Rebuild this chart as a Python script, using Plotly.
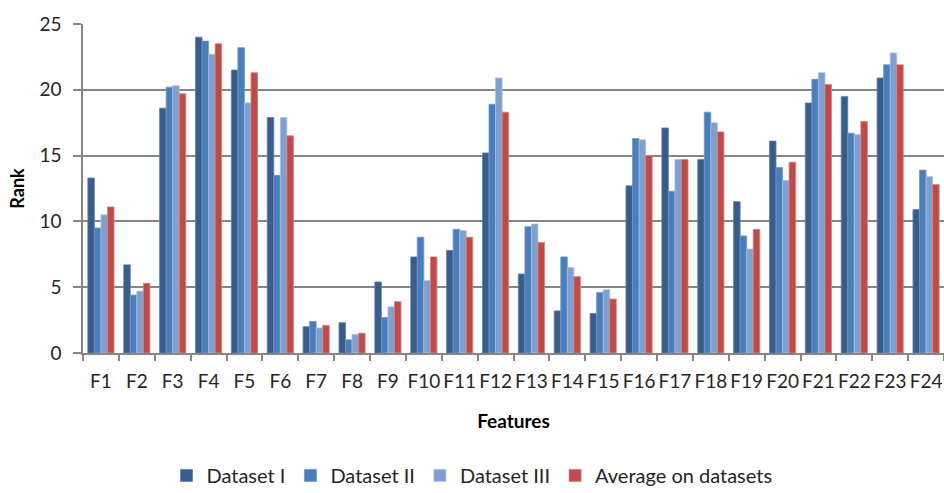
import plotly.graph_objects as go

features = [f"F{i}" for i in range(1, 25)]

dataset_1 = [13.3, 6.7, 18.6, 24.0, 21.5, 17.9, 2.0, 2.3, 5.4, 7.3, 7.8, 15.2,
             6.0, 3.2, 3.0, 12.7, 17.1, 14.7, 11.5, 16.1, 19.0, 19.5, 20.9, 10.9]
dataset_2 = [9.5, 4.4, 20.2, 23.7, 23.2, 13.5, 2.4, 1.0, 2.7, 8.8, 9.4, 18.9,
             9.6, 7.3, 4.6, 16.3, 12.3, 18.3, 8.9, 14.1, 20.8, 16.7, 21.9, 13.9]
dataset_3 = [10.5, 4.7, 20.3, 22.7, 19.0, 17.9, 1.9, 1.4, 3.5, 5.5, 9.3, 20.9,
             9.8, 6.5, 4.8, 16.2, 14.7, 17.5, 7.9, 13.1, 21.3, 16.6, 22.8, 13.4]
average = [11.1, 5.3, 19.7, 23.5, 21.3, 16.5, 2.1, 1.5, 3.9, 7.3, 8.8, 18.3,
           8.4, 5.8, 4.1, 15.0, 14.7, 16.8, 9.4, 14.5, 20.4, 17.6, 21.9, 12.8]

series = [
    ("Dataset I", dataset_1, "#385D8A", "#5E80AD"),
    ("Dataset II", dataset_2, "#4A7EBB", "#7096C8"),
    ("Dataset III", dataset_3, "#7F9FCF", "#A9C0E2"),
    ("Average on datasets", average, "#BE4B48", "#D7807D"),
]

FONT = "Lato, sans-serif"
GRID = "#868686"
TEXT = "#262626"

fig = go.Figure()
for name, vals, color, edge in series:
    fig.add_trace(go.Bar(
        x=features, y=vals, name=name,
        marker=dict(color=color, line=dict(color=edge, width=0.8)),
    ))

fig.update_layout(
    width=944, height=493,
    margin=dict(l=83, r=0, t=24, b=140, autoexpand=False),
    paper_bgcolor="white", plot_bgcolor="white",
    barmode="group", bargap=0.27, bargroupgap=0,
    font=dict(family=FONT, size=19, color=TEXT),
    legend=dict(orientation="h", xref="container", x=0.5, xanchor="center",
                y=-0.372, yanchor="middle",
                font=dict(size=20), traceorder="normal"),
    showlegend=True,
)

fig.update_xaxes(
    type="category", showline=True, linecolor=GRID, linewidth=1.5,
    ticks="outside", tickson="boundaries", ticklen=6, tickcolor=GRID, tickwidth=1.5,
    showgrid=False, tickfont=dict(size=19), tickangle=0, ticklabelstandoff=10,
    title=dict(text="<b>Features</b>", font=dict(size=19, color="#000000"), standoff=24),
)
fig.update_yaxes(
    range=[0, 25], dtick=5, showline=True, linecolor=GRID, linewidth=1.5,
    ticks="outside", ticklen=8, tickcolor=GRID, tickwidth=1.5,
    showgrid=True, gridcolor=GRID, gridwidth=1.5, zeroline=False,
    tickfont=dict(size=19), ticklabelstandoff=8,
    title=dict(text="<b>Rank</b>", font=dict(size=18, color="#000000"), standoff=10),
)

fig.write_html("out.html")
